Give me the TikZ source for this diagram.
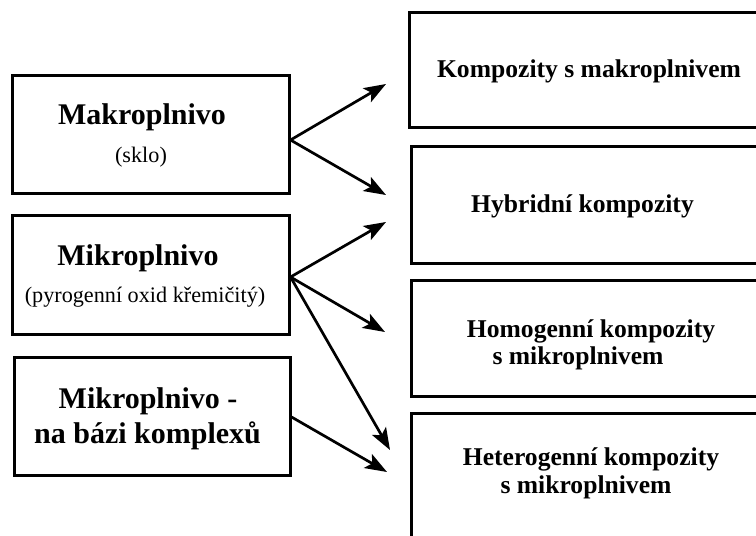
\documentclass[tikz,border=0pt]{standalone}
\usepackage{fontspec}
\setmainfont{Liberation Serif}
\usetikzlibrary{arrows.meta}
\tikzset{
  box/.style={draw=black, line width=3pt, rectangle, inner sep=0pt, fill=white},
  lhead/.style={anchor=base, inner sep=0pt, font=\fontsize{30}{30}\selectfont\bfseries},
  lsub/.style={anchor=base, inner sep=0pt, font=\fontsize{22.2}{22.2}\selectfont},
  rhead/.style={anchor=base, inner sep=0pt, font=\fontsize{25.6}{25.6}\selectfont\bfseries},
  arr/.style={line width=2.7pt, -{Stealth[length=22pt,width=16pt,inset=5pt]}}
}
\begin{document}
\begin{tikzpicture}[x=1pt,y=-1pt]
\useasboundingbox (0,0) rectangle (756,536);
\clip (0,0) rectangle (756,536);
\fill[white] (0,0) rectangle (756,536);
% left boxes
\node[box, minimum width=277pt, minimum height=118pt] (m1) at (150.5,134) {};
\node[box, minimum width=277pt, minimum height=119pt] (m2) at (150.5,274.5) {};
\node[box, minimum width=276pt, minimum height=118pt] (m3) at (152,416) {};
% right boxes
\node[box, minimum width=400pt, minimum height=115pt] (k1) at (609,69.5) {};
\node[box, minimum width=400pt, minimum height=117pt] (k2) at (611,204.5) {};
\node[box, minimum width=400pt, minimum height=116pt] (k3) at (611,338) {};
\node[box, minimum width=400pt, minimum height=147pt] (k4) at (611,486.5) {};
% texts
\node[lhead] (t1) at (142,124) {Makroplnivo};
\node[lsub] (t1b) at (141,162) {(sklo)};
\node[lhead] (t2) at (138,265) {Mikroplnivo};
\node[lsub] (t2b) at (145,302) {(pyrogenní oxid křemičitý)};
\node[lhead] (t3) at (148,408) {Mikroplnivo -};
\node[lhead] (t3b) at (147.5,443) {na bázi komplexů};
\node[rhead] (r1) at (589,77) {Kompozity s makroplnivem};
\node[rhead] (r2) at (582.5,212) {Hybridní kompozity};
\node[rhead] (r3) at (591,337) {Homogenní kompozity};
\node[rhead] (r3b) at (578,364) {s mikroplnivem};
\node[rhead] (r4) at (591,465) {Heterogenní kompozity};
\node[rhead] (r4b) at (586,493) {s mikroplnivem};
% arrow ends
\coordinate (e1) at (386,84);
\coordinate (e2) at (386,195);
\coordinate (e3) at (386,222);
\coordinate (e4) at (385,332);
\coordinate (e5) at (390,450);
\coordinate (e6) at (387,472);
% arrows
\draw[arr] ([yshift=-6pt]m1.east) -- (e1);
\draw[arr] ([yshift=-6pt]m1.east) -- (e2);
\draw[arr] ([yshift=-2.5pt]m2.east) -- (e3);
\draw[arr] ([yshift=-2.5pt]m2.east) -- (e4);
\draw[arr] ([yshift=-2.5pt]m2.east) -- (e5);
\draw[arr] ([yshift=-1pt]m3.east) -- (e6);
\end{tikzpicture}
\end{document}
